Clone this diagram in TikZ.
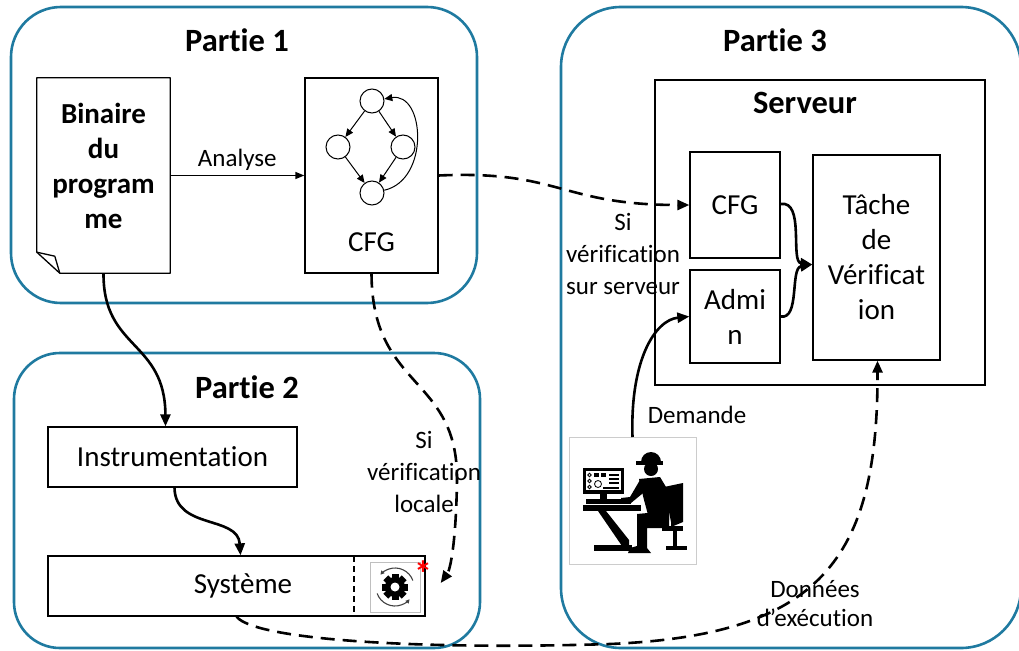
\documentclass[tikz,border=0pt]{standalone}
\usepackage{fontspec}
\setmainfont{Carlito}[Ligatures=NoCommon]
\usetikzlibrary{arrows.meta}

\definecolor{bleupartie}{RGB}{31,122,160}

\tikzset{
    partie/.style={draw=bleupartie, line width=2.6pt},
    titre/.style={font=\bfseries\fontsize{32.5}{36}\selectfont},
    boite/.style={draw, line width=1.3pt, inner sep=0pt, align=center, font=\fontsize{29}{35}\selectfont},
    etiq/.style={align=center, inner sep=0pt, font=\fontsize{25}{32}\selectfont},
    cercle/.style={draw, circle, minimum size=24pt, inner sep=0pt, line width=1pt},
    fleche/.style={line width=2.6pt, -{Triangle[length=12pt,width=10pt]}},
    tirets/.style={fleche, dash pattern=on 14pt off 8pt},
    petite/.style={line width=1pt, -{Triangle[length=8pt,width=7pt]}}
}

\begin{document}
\begin{tikzpicture}[x=1pt, y=-1pt]
    \useasboundingbox (0,0) rectangle (1019,650);
    \clip (0,0) rectangle (1019,650);

    % Les trois parties
    \draw[partie, rounded corners=50pt] (11,7) rectangle (477,303);
    \draw[partie, rounded corners=46pt] (14,353) rectangle (480,648);
    \draw[partie, rounded corners=60pt] (561,7) rectangle (1021,648);
    \node[titre] (p1) at (237,40) {Partie 1};
    \node[titre] (p2) at (247,387) {Partie 2};
    \node[titre] (p3) at (775,40) {Partie 3};

    % Binaire (feuille au coin plie)
    \node[minimum width=133pt, minimum height=195pt] (bin) at (103.5,175.5) {};
    \draw[line width=1.3pt, line join=round] (bin.north west) -- (bin.north east) -- (bin.south east)
        -- ([xshift=23pt]bin.south west) -- ([yshift=21pt]bin.south west) -- cycle;
    \draw[line width=1.3pt, line join=round] ([yshift=21pt]bin.south west)
        -- ([xshift=18pt,yshift=17pt]bin.south west) -- ([xshift=23pt]bin.south west);
    \node[align=center, font=\bfseries\fontsize{29}{35}\selectfont] (binTxt) at (103.5,166) {Binaire\\du\\program\\me};

    % CFG de la partie 1
    \node[boite, minimum width=133pt, minimum height=195pt] (cfgA) at (371.5,175.5) {};
    \node[etiq, font=\fontsize{29}{30}\selectfont] (cfgTxt) at (371.5,242) {CFG};
    \node[cercle] (g1) at (372,101) {};
    \node[cercle] (g2) at (338,147) {};
    \node[cercle] (g3) at (403,147) {};
    \node[cercle] (g4) at (372,193) {};
    \draw[petite] (g1) -- (g2);
    \draw[petite] (g1) -- (g3);
    \draw[petite] (g2) -- (g4);
    \draw[petite] (g3) -- (g4);
    \draw[petite] (g4) .. controls (430,180) and (425,92) .. (g1);

    \draw[line width=1.3pt, -{Triangle[length=9pt,width=7pt]}] (bin.east) -- (cfgA.west)
        node[midway, above=4pt, etiq] (analyse) {Analyse};

    % Partie 2
    \node[boite, minimum width=249pt, minimum height=60pt] (instr) at (172.5,457) {Instrumentation};
    \node[boite, minimum width=377pt, minimum height=60pt] (sys) at (236.5,586) {};
    \node[etiq, font=\fontsize{29}{30}\selectfont] (sysTxt) at (243,586) {Système};
    \draw[line width=1.3pt, dash pattern=on 6pt off 4pt] (354,556) -- (354,616);

    % Engrenage
    \node[draw=black!25, line width=1pt, minimum size=50pt, inner sep=0pt] (gear) at (395,587) {};
    \foreach \a in {0,45,...,315}
        \fill[rotate around={\a:(395,587)}] (391.5,574) rectangle (398.5,580);
    \fill (395,587) circle (10pt);
    \fill[white] (395,587) circle (4.5pt);
    \draw[black!75, line width=1.1pt, -{Triangle[length=4pt,width=4pt]}]
        (395,587) ++(200:19pt) arc[start angle=200, end angle=320, radius=19pt];
    \draw[black!75, line width=1.1pt, -{Triangle[length=4pt,width=4pt]}]
        (395,587) ++(20:19pt) arc[start angle=20, end angle=140, radius=19pt];
    \node[text=red, font=\bfseries\fontsize{36}{36}\selectfont, inner sep=0pt] (etoile) at (423,574) {*};

    % Serveur
    \node[draw, line width=1.3pt, minimum width=330pt, minimum height=305pt] (serveur) at (820,232.5) {};
    \node[titre] (servTxt) at (805,103) {Serveur};
    \node[boite, minimum width=90pt, minimum height=106pt] (cfgB) at (735,205) {CFG};
    \node[boite, minimum width=90pt, minimum height=93pt] (admin) at (735,316.5) {Admi\\n};
    \node[boite, minimum width=127pt, minimum height=205pt] (tache) at (876.5,257.5) {Tâche\\de\\Vérificat\\ion};
    \coordinate (entree) at ([yshift=-7pt]tache.west);

    % Technicien
    \node[draw=black!20, line width=1pt, minimum size=127pt, inner sep=0pt] (tech) at (632.5,501) {};
    \fill (583,468) rectangle (624,494);
    \fill[white] (586,471) rectangle (621,490);
    \foreach \y in {475,481,487}
        \draw[line width=0.8pt] (589.5,\y) circle (1.8pt);
    \draw[line width=0.8pt] (598,484) circle (3.5pt);
    \fill (594,472.5) rectangle (598.5,476.5);
    \fill (601,472.5) rectangle (605.5,476.5);
    \foreach \y in {474,478,482}
        \fill (609,\y) rectangle (619,\y+1.8);
    \fill (603,487) rectangle (619,488.6);
    \fill (600,494) rectangle (607,499);
    \fill (586,499) rectangle (631,504);
    \fill (583,505) rectangle (641,511);
    \fill (598,511) -- (606,511) -- (629,540) -- (629,546) -- (622,546) -- cycle;
    \fill (594,545) rectangle (632,551);
    \fill (641,462) arc[start angle=180, end angle=0, radius=10pt] -- cycle;
    \fill (636,461) rectangle (663,464.5);
    \fill (651,469) circle (7pt);
    \fill (639,479) -- (660,477) -- (669,492) -- (669,520) -- (650,522) -- (644,500) -- cycle;
    \fill (640,480) -- (648,489) -- (631,503) -- (621,503) -- (621,498) -- (630,497) -- cycle;
    \fill (669,511) -- (669,528) -- (647,528) -- (647,548) -- (651,553) -- (628,553) -- (630,548)
        -- (637,546) -- (637,514) -- cycle;
    \fill (664,487) -- (683,483) -- (683,522) -- (671,527) -- (671,522) -- cycle;
    \fill (662,526) rectangle (683,531);
    \fill (673,531) rectangle (677,547);
    \fill (666,546) rectangle (687,550);

    % Liaisons
    \draw[fleche] (bin.south) .. controls (103,350) and (165,340) .. ([xshift=-7pt]instr.north);
    \draw[fleche] ([xshift=2pt]instr.south) .. controls (175,530) and (238,515) .. ([xshift=4pt]sys.north);
    \draw[tirets] (cfgA.east) .. controls (560,170) and (560,205) .. (cfgB.west);
    \draw[tirets] (cfgA.south) .. controls (372,390) and (458,375) .. (457,480)
        .. controls (456,545) and (450,570) .. ([xshift=15pt,yshift=3pt]sys.east);
    \draw[fleche] ([yshift=1pt]cfgB.east) .. controls (805,200) and (790,262) .. (entree);
    \draw[fleche] (admin.east) .. controls (800,320) and (790,268) .. (entree);
    \draw[fleche] (tech.north) .. controls (630,360) and (655,320) .. (admin.west);
    \draw[tirets] (sys.south) .. controls (255,640) and (420,650) .. (610,644)
        .. controls (820,635) and (878,560) .. ([xshift=1pt]tache.south);

    % Etiquettes
    \node[etiq] (lbServ) at (623,254) {Si\\vérification\\sur serveur};
    \node[etiq] (lbLoc) at (424,472) {Si\\vérification\\locale};
    \node[etiq] (lbDem) at (697,415) {Demande};
    \node[etiq, font=\fontsize{25}{29}\selectfont] (lbDon) at (815,604) {Données\\d’exécution};
\end{tikzpicture}
\end{document}
